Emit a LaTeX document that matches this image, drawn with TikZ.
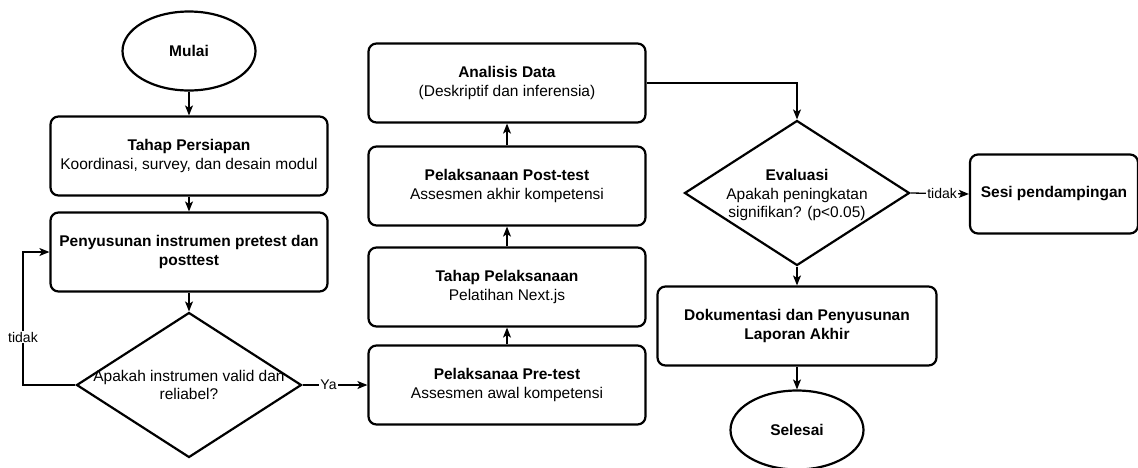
\documentclass[tikz,border=0pt]{standalone}
\usepackage{fontspec}
\setmainfont{Liberation Sans}
\usetikzlibrary{shapes.geometric,arrows.meta,positioning}

\begin{document}
\begin{tikzpicture}
  [x=1pt,y=-1pt,line width=1.3pt,>={Stealth[length=10pt,width=8pt,inset=2.5pt]},
   every node/.style={font=\fontsize{15.5}{18.5}\selectfont,align=center},
   box/.style={draw,rounded corners=8pt,line width=2.2pt,minimum width=277pt,minimum height=79pt},
   term/.style={draw,ellipse,line width=2.2pt,minimum width=133pt,minimum height=79pt,font=\fontsize{15.5}{18.5}\selectfont\bfseries},
   dec/.style={draw,diamond,line width=2.2pt,minimum width=225pt,minimum height=145pt,inner sep=0pt},
   lbl/.style={fill=white,inner sep=1pt,font=\fontsize{14}{16}\selectfont}]
  \useasboundingbox (0,0) rectangle (1138,467);

  % left column
  \node[term] (mulai) at (189,51) {Mulai};
  \node[box] (persiapan) at (189,156) {\textbf{Tahap Persiapan}\\Koordinasi, survey, dan desain modul};
  \node[box] (susun) at (189,252) {\textbf{Penyusunan instrumen pretest dan}\\\textbf{posttest}};
  \node[dec] (valid) at (189,385) {};
  \node (valid-txt) at (valid) {Apakah instrumen valid dan\\reliabel?};

  % middle column
  \node[box] (pretest) at (507,385) {\textbf{Pelaksanaa Pre-test}\\Assesmen awal kompetensi};
  \node[box] (pelaksanaan) at (507,287) {\textbf{Tahap Pelaksanaan}\\Pelatihan Next.js};
  \node[box] (posttest) at (507,186) {\textbf{Pelaksanaan Post-test}\\Assesmen akhir kompetensi};
  \node[box] (analisis) at (507,83) {\textbf{Analisis Data}\\(Deskriptif dan inferensia)};

  % right column
  \node[dec] (eval) at (797,193) {};
  \node (eval-txt) at (797,195) {\textbf{Evaluasi}\\Apakah peningkatan\\signifikan? (p<0.05)};
  \node[box,minimum width=168pt] (sesi) at (1054,194) {\textbf{Sesi pendampingan}};
  \node[box,minimum width=279pt] (dok) at (797,326) {\textbf{Dokumentasi dan Penyusunan}\\\textbf{Laporan Akhir}};
  \node[term] (selesai) at (797,430) {Selesai};

  \coordinate (loop) at (23,385);

  \draw[->] (mulai) -- (persiapan);
  \draw[->] (persiapan) -- (susun);
  \draw[->] (susun) -- (valid);
  \draw[->] (valid.west) -- (loop) |- node[lbl,pos=0.18] {tidak} (susun.west);
  \draw[->] (valid.east) -- node[lbl,pos=0.4] {Ya} (pretest.west);

  \foreach \from/\to in {pretest/pelaksanaan,pelaksanaan/posttest,posttest/analisis}
    \draw[->] (\from) -- (\to);

  \draw[->] (analisis.east) -| (eval.north);
  \draw[->] (eval.east) -- node[lbl,pos=0.54] {tidak} (sesi.west);
  \draw[->] (eval.south) -- (dok.north);
  \draw[->] (dok.south) -- (selesai.north);
\end{tikzpicture}
\end{document}
